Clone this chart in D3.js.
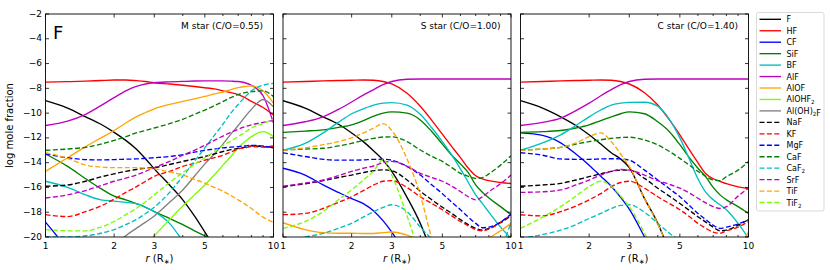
<!DOCTYPE html>
<html>
<head>
<meta charset="utf-8">
<script src="https://cdn.jsdelivr.net/npm/d3@7"></script>
<style>
    body { margin: 0; background: #fff; }
    text { font-family: 'DejaVu Sans', sans-serif; fill: #000; }
</style>
</head>
<body>
<svg id="chart" width="830" height="270"></svg>
<script>

// Radius grid (R*) shared by every series
const radius = [1, 1.25, 1.5, 1.75, 2, 2.25, 2.5, 2.75, 3, 3.5, 4, 4.5, 5, 5.5, 6, 6.5, 7, 7.5, 8, 9, 10];

// Species, legend order
const species = ['F', 'HF', 'CF', 'SiF', 'BF', 'AlF', 'AlOF', 'AlOHF2', 'Al(OH)2F',
    'NaF', 'KF', 'MgF', 'CaF', 'CaF2', 'SrF', 'TiF', 'TiF2'];
const colors = ['#000000', '#ff0000', '#0000ff', '#008000', '#00bfbf', '#bf00bf', '#ffa500', '#7cfc00', '#808080',
    '#000000', '#ff0000', '#0000ff', '#008000', '#00bfbf', '#bf00bf', '#ffa500', '#7cfc00'];
const dashed = [false, false, false, false, false, false, false, false, false,
    true, true, true, true, true, true, true, true];

// Panels
const panelTitles = ['M star (C/O=0.55)', 'S star (C/O=1.00)', 'C star (C/O=1.40)'];
const xTicks = [1, 2, 3, 5, 10];
const xMinorTicks = [4, 6, 7, 8, 9];
const yTicks = [-2, -4, -6, -8, -10, -12, -14, -16, -18, -20];

// log mole fraction, M star
const mStar = {
    'F':        [-9.0, -9.6, -10.3, -10.9, -11.55, -12.2, -12.9, -13.7, -14.5, -15.8, -17.0, -18.3, -19.6, -20.8, -22, -23, -24, -25, -26, -27, -28],
    'HF':       [-7.5, -7.46, -7.42, -7.37, -7.33, -7.33, -7.38, -7.45, -7.55, -7.65, -7.75, -7.85, -7.95, -8.05, -8.2, -8.35, -8.5, -8.75, -9.05, -9.55, -10.15],
    'CF':       [-18.8, -21, -23, -24, -25, -25.5, -26, -26.5, -27, -27.5, -28, -28.5, -29, -29.5, -30, -30.5, -31, -31.5, -32, -32.5, -33],
    'SiF':      [-13.3, -14.3, -15.3, -16.1, -16.7, -17.0, -17.3, -17.6, -17.95, -18.5, -19.0, -19.5, -19.9, -20.3, -20.7, -21, -21.3, -21.6, -21.9, -22.4, -22.9],
    'BF':       [-15.5, -16.0, -16.6, -17.0, -17.1, -17.2, -17.3, -17.6, -17.95, -18.9, -20.3, -21.5, -22.5, -23, -23.5, -24, -24.5, -25, -25.5, -26, -26.5],
    'AlF':      [-11.0, -10.65, -10.1, -9.4, -8.75, -8.2, -7.85, -7.65, -7.55, -7.48, -7.44, -7.41, -7.4, -7.4, -7.4, -7.42, -7.45, -7.55, -7.75, -8.6, -10.8],
    'AlOF':     [-14.7, -13.6, -12.7, -12.0, -11.4, -10.8, -10.3, -9.95, -9.65, -9.3, -9.05, -8.85, -8.65, -8.45, -8.3, -8.1, -7.95, -7.85, -7.8, -8.2, -9.2],
    'AlOHF2':   [-27, -26, -25, -24, -23, -22.2, -21.4, -20.6, -19.9, -18.6, -17.5, -16.6, -15.8, -15.0, -14.2, -13.5, -12.8, -12.3, -11.9, -11.5, -11.9],
    'Al(OH)2F': [-26, -24.5, -23, -21.8, -20.8, -19.9, -19.3, -18.8, -18.3, -17.2, -16.2, -15.1, -14.1, -13.3, -12.5, -11.7, -11.0, -10.3, -9.7, -8.9, -9.5],
    'NaF':      [-15.9, -15.8, -15.5, -15.15, -14.9, -14.7, -14.55, -14.45, -14.4, -14.15, -13.9, -13.7, -13.5, -13.3, -13.1, -12.95, -12.85, -12.75, -12.65, -12.7, -12.8],
    'KF':       [-18.2, -18.35, -17.95, -17.5, -16.95, -16.4, -15.95, -15.5, -15.1, -14.7, -14.3, -14.05, -13.8, -13.6, -13.4, -13.15, -12.9, -12.8, -12.7, -12.75, -12.65],
    'MgF':      [-13.3, -13.6, -13.75, -13.78, -13.75, -13.72, -13.7, -13.65, -13.6, -13.5, -13.35, -13.15, -13.0, -12.9, -12.8, -12.75, -12.7, -12.65, -12.6, -12.65, -12.8],
    'CaF':      [-13.0, -12.9, -12.76, -12.5, -12.2, -11.9, -11.6, -11.4, -11.2, -10.85, -10.5, -10.1, -9.75, -9.4, -9.07, -8.75, -8.5, -8.35, -8.27, -8.2, -8.67],
    'CaF2':     [-20.0, -20.0, -19.9, -19.7, -19.4, -19.0, -18.6, -18.1, -17.6, -16.4, -15.1, -13.9, -12.8, -11.8, -10.9, -10.0, -9.3, -8.7, -8.2, -7.75, -7.6],
    'SrF':      [-16.85, -16.6, -16.25, -15.85, -15.5, -15.25, -15.0, -14.7, -14.4, -13.9, -13.4, -13.0, -12.6, -12.2, -11.85, -11.55, -11.3, -11.1, -10.95, -10.75, -10.6],
    'TiF':      [-13.2, -13.65, -14.2, -14.35, -14.4, -14.4, -14.4, -14.45, -14.5, -14.75, -15.0, -15.35, -15.65, -16.0, -16.3, -16.65, -17.0, -17.35, -17.7, -18.4, -18.8],
    'TiF2':     [-19.4, -19.5, -19.5, -19.2, -18.75, -18.2, -17.7, -17.15, -16.6, -15.6, -14.8, -14.15, -13.6, -13.1, -12.6, -12.25, -11.9, -11.55, -11.2, -10.85, -10.5]
};

// log mole fraction, S star
const sStar = {
    'F':        [-9.0, -9.6, -10.3, -10.9, -11.6, -12.3, -13.05, -13.8, -14.7, -16.8, -18.9, -21.3, -23.5, -25, -26, -27, -28, -29, -30, -31, -32],
    'HF':       [-7.5, -7.45, -7.4, -7.37, -7.35, -7.33, -7.35, -7.45, -7.65, -8.4, -9.45, -10.6, -11.7, -12.7, -13.6, -14.45, -15.05, -15.3, -15.45, -15.6, -15.68],
    'CF':       [-14.45, -15.0, -15.8, -16.4, -16.9, -17.3, -17.9, -18.7, -19.6, -21.5, -23, -24, -25, -26, -27, -28, -29, -30, -31, -32, -33],
    'SiF':      [-11.55, -11.45, -11.35, -11.15, -10.95, -10.6, -10.25, -10.0, -9.9, -10.0, -10.55, -11.5, -12.5, -13.4, -14.1, -14.8, -15.8, -16.4, -16.85, -17.55, -18.2],
    'BF':       [-13.0, -12.45, -11.6, -10.75, -10.05, -9.65, -9.35, -9.2, -9.15, -9.35, -10.1, -11.2, -12.3, -13.4, -14.5, -15.6, -16.6, -17.3, -18.0, -19.2, -20.1],
    'AlF':      [-11.0, -10.7, -10.3, -9.7, -9.1, -8.55, -8.1, -7.7, -7.45, -7.27, -7.25, -7.25, -7.25, -7.25, -7.25, -7.25, -7.25, -7.25, -7.25, -7.25, -7.25],
    'AlOF':     [-18.85, -19.4, -19.65, -19.7, -19.7, -19.72, -19.72, -19.65, -19.6, -19.85, -20.3, -20.7, -21, -21.2, -21.2, -21.1, -20.9, -20.5, -20.1, -19.5, -18.9],
    'AlOHF2':   [],
    'Al(OH)2F': [],
    'NaF':      [-15.93, -15.7, -15.45, -15.2, -15.0, -14.8, -14.65, -14.58, -14.65, -15.4, -16.3, -17.0, -17.6, -18.1, -18.6, -19.0, -19.3, -19.45, -19.3, -18.85, -18.3],
    'KF':       [-18.2, -18.1, -17.7, -17.2, -16.75, -16.25, -15.8, -15.5, -15.45, -16.0, -16.75, -17.3, -17.8, -18.3, -18.75, -19.1, -19.4, -19.5, -19.35, -18.8, -18.2],
    'MgF':      [-13.2, -13.5, -13.73, -13.8, -13.8, -13.78, -13.73, -13.73, -13.8, -14.3, -15.0, -15.8, -16.5, -17.2, -17.8, -18.4, -18.9, -19.25, -19.2, -18.8, -18.15],
    'CaF':      [-12.98, -12.9, -12.84, -12.65, -12.44, -12.2, -12.04, -11.93, -11.92, -12.3, -12.98, -13.5, -13.9, -14.4, -14.86, -15.1, -15.27, -15.2, -14.9, -14.2, -13.45],
    'CaF2':     [-20.3, -20.0, -19.7, -19.3, -18.9, -18.4, -17.95, -17.6, -17.4, -17.95, -19.2, -20.2, -21.2, -22, -22.5, -22.7, -22.7, -22.5, -22.2, -21.0, -18.8],
    'SrF':      [-15.9, -15.65, -15.4, -15.05, -14.7, -14.45, -14.27, -14.0, -13.9, -14.3, -14.86, -15.2, -15.5, -15.9, -16.33, -16.75, -17.0, -16.75, -16.35, -15.7, -15.0],
    'TiF':      [-13.0, -12.8, -12.55, -12.3, -12.0, -11.6, -11.2, -10.85, -11.4, -13.7, -16.6, -20.2, -23, -25, -26, -27, -28, -29, -30, -31, -32],
    'TiF2':     [-19.3, -18.75, -17.95, -17.0, -16.2, -15.4, -14.65, -13.75, -15.0, -18.3, -21.5, -24, -26, -27, -28, -29, -30, -31, -32, -33, -34]
};

// log mole fraction, C star
const cStar = {
    'F':        [-9.0, -9.6, -10.3, -11.0, -11.75, -12.5, -13.2, -13.7, -14.4, -16.9, -18.9, -21.2, -23.5, -25, -26, -27, -28, -29, -30, -31, -32],
    'HF':       [-7.5, -7.45, -7.4, -7.37, -7.35, -7.33, -7.35, -7.45, -7.65, -8.35, -9.35, -10.55, -11.75, -12.95, -14.0, -14.9, -15.3, -15.5, -15.7, -15.95, -16.1],
    'CF':       [-11.6, -11.8, -12.4, -13.3, -14.2, -15.1, -15.9, -16.8, -17.75, -20.0, -22, -23.5, -25, -26, -27, -28, -29, -30, -31, -32, -33],
    'SiF':      [-11.55, -11.5, -11.4, -11.2, -10.95, -10.6, -10.3, -10.05, -9.9, -10.05, -10.7, -11.5, -12.55, -13.6, -14.45, -15.15, -16.0, -16.6, -17.0, -17.55, -18.1],
    'BF':       [-13.0, -12.4, -11.75, -11.0, -10.3, -9.75, -9.35, -9.2, -9.13, -9.12, -9.45, -10.5, -12.0, -13.7, -15.3, -16.4, -17.0, -17.4, -17.8, -18.9, -20.1],
    'AlF':      [-11.0, -10.75, -10.4, -9.8, -9.2, -8.6, -8.1, -7.7, -7.45, -7.27, -7.25, -7.25, -7.25, -7.25, -7.25, -7.25, -7.25, -7.25, -7.25, -7.25, -7.25],
    'AlOF':     [-24, -24, -24, -24, -24, -24, -24, -24, -24, -24, -24, -24, -24, -24, -24, -23.5, -23, -22.5, -22, -21, -19.6],
    'AlOHF2':   [],
    'Al(OH)2F': [],
    'NaF':      [-15.9, -15.8, -15.67, -15.4, -15.13, -14.9, -14.7, -14.6, -14.6, -15.27, -16.06, -16.7, -17.3, -17.85, -18.36, -18.8, -19.2, -19.5, -19.45, -19.05, -18.6],
    'KF':       [-18.2, -18.3, -17.95, -17.5, -17.0, -16.5, -15.95, -15.6, -15.5, -16.06, -16.75, -17.3, -17.8, -18.35, -18.9, -19.3, -19.6, -19.7, -19.5, -19.2, -18.75],
    'MgF':      [-13.2, -13.4, -13.7, -13.73, -13.73, -13.7, -13.68, -13.7, -13.8, -14.6, -15.4, -16.1, -16.75, -17.45, -18.1, -18.6, -19.05, -19.3, -19.2, -18.95, -18.6],
    'CaF':      [-12.98, -12.9, -12.76, -12.5, -12.3, -12.15, -12.04, -11.97, -11.95, -12.17, -12.57, -13.1, -13.65, -14.2, -14.7, -15.1, -15.4, -15.45, -15.13, -14.6, -13.9],
    'CaF2':     [-20.1, -19.8, -19.45, -19.0, -18.5, -18.1, -17.7, -17.45, -17.4, -18.0, -18.9, -19.7, -20.3, -21, -21.5, -22, -22, -22, -22, -21.5, -20.5],
    'SrF':      [-16.4, -16.35, -16.2, -15.8, -15.4, -15.0, -14.7, -14.55, -14.6, -15.0, -15.45, -15.75, -16.06, -16.45, -16.87, -17.25, -17.55, -17.7, -17.55, -16.7, -16.06],
    'TiF':      [-13.0, -12.9, -12.76, -12.4, -11.9, -11.6, -12.3, -13.3, -14.3, -16.9, -18.95, -21.2, -23.5, -25, -26, -27, -28, -29, -30, -31, -32],
    'TiF2':     [-19.3, -18.4, -17.55, -16.7, -15.93, -15.5, -15.9, -16.7, -17.55, -19.7, -21.8, -24, -26, -27, -28, -29, -30, -31, -32, -33, -34]
};

const panelData = [mStar, sStar, cStar];

// Layout
const configs = {
    lefts: [45.5, 283, 520.5],
    panelW: 228,
    top: 14,
    bottom: 237,
    tickSize: 3.5,
    minorTickSize: 2,
    lineWidth: 1.35,
    dash: '5,2.4',
    legendX: 756.5,
    legendY: 12.5,
    legendW: 67.5,
    legendH: 198.5,
    legendRow0: 19.3,
    legendStep: 11.45
};

const svg = d3.select('#chart');

// Scales
const y = d3.scaleLinear().domain([-20, -2]).range([configs.bottom, configs.top]);

// Text with digits set as subscripts
function setLabel(sel, label, size) {
    const parts = label.match(/\d+|[^\d]+/g);
    parts.forEach(p => {
        const isSub = /^\d+$/.test(p);
        sel.append('tspan')
            .attr('font-size', isSub ? size * 0.7 : size)
            .attr('dy', isSub ? size * 0.25 : 0)
            .text(p);
        if (isSub) sel.append('tspan').attr('dy', -size * 0.25).text('');
    });
}

panelData.forEach((data, pi) => {
    const x0 = configs.lefts[pi];
    const x = d3.scaleLog().domain([1, 10]).range([x0, x0 + configs.panelW]);
    const g = svg.append('g').attr('class', 'panel_' + pi);

    // Clip
    svg.append('clipPath').attr('id', 'clip' + pi)
        .append('rect')
        .attr('x', x0).attr('y', configs.top)
        .attr('width', configs.panelW).attr('height', configs.bottom - configs.top);

    // Lines
    const line = d3.line()
        .x(d => x(d[0]))
        .y(d => y(d[1]))
        .curve(d3.curveMonotoneX);
    const linesG = g.append('g').attr('clip-path', `url(#clip${pi})`);
    species.forEach((sp, si) => {
        const vals = data[sp];
        if (!vals || vals.length === 0) return;
        linesG.append('path')
            .attr('d', line(radius.map((r, i) => [r, vals[i]])))
            .attr('fill', 'none')
            .attr('stroke', colors[si])
            .attr('stroke-width', configs.lineWidth)
            .attr('stroke-dasharray', dashed[si] ? configs.dash : null);
    });

    // Frame
    g.append('rect')
        .attr('x', x0).attr('y', configs.top)
        .attr('width', configs.panelW).attr('height', configs.bottom - configs.top)
        .attr('fill', 'none').attr('stroke', '#000').attr('stroke-width', 0.9);

    // Inward ticks, x
    const tickG = g.append('g').attr('stroke', '#000').attr('stroke-width', 0.8);
    xTicks.concat(xMinorTicks).forEach(t => {
        const len = xTicks.includes(t) ? configs.tickSize : configs.minorTickSize;
        tickG.append('line').attr('x1', x(t)).attr('x2', x(t))
            .attr('y1', configs.bottom).attr('y2', configs.bottom - len);
        tickG.append('line').attr('x1', x(t)).attr('x2', x(t))
            .attr('y1', configs.top).attr('y2', configs.top + len);
    });
    // Inward ticks, y
    yTicks.forEach(t => {
        tickG.append('line').attr('x1', x0).attr('x2', x0 + configs.tickSize)
            .attr('y1', y(t)).attr('y2', y(t));
        tickG.append('line').attr('x1', x0 + configs.panelW).attr('x2', x0 + configs.panelW - configs.tickSize)
            .attr('y1', y(t)).attr('y2', y(t));
    });

    // Tick labels, x
    xTicks.forEach(t => {
        g.append('text')
            .attr('x', x(t)).attr('y', 249)
            .attr('text-anchor', 'middle')
            .attr('font-size', 9)
            .text(t);
    });

    // Tick labels, y (first panel only)
    if (pi === 0) {
        yTicks.forEach(t => {
            g.append('text')
                .attr('x', x0 - 3.5).attr('y', y(t))
                .attr('text-anchor', 'end')
                .attr('dominant-baseline', 'middle')
                .attr('font-size', 9)
                .text(d3.format('d')(t).replace('-', '\u2212'));
        });
    }

    // Axis label, x
    const xl = g.append('text')
        .attr('x', x0 + configs.panelW / 2).attr('y', 262)
        .attr('text-anchor', 'middle')
        .attr('font-size', 10);
    xl.append('tspan').attr('font-style', 'italic').text('r');
    xl.append('tspan').text(' (R');
    xl.append('tspan').attr('font-size', 7).attr('dy', 2).text('\u2217');
    xl.append('tspan').attr('dy', -2).text(')');

    // Panel title
    g.append('text')
        .attr('x', x0 + configs.panelW - 10.5).attr('y', 29)
        .attr('text-anchor', 'end')
        .attr('font-size', 9)
        .text(panelTitles[pi]);
});

// Panel letter
svg.append('text')
    .attr('x', 53).attr('y', 39)
    .attr('font-size', 18)
    .text('F');

// Axis label, y
svg.append('text')
    .attr('transform', `translate(13, ${(configs.top + configs.bottom) / 2}) rotate(-90)`)
    .attr('text-anchor', 'middle')
    .attr('font-size', 10)
    .text('log mole fraction');

// Legend
const legendG = svg.append('g').attr('class', 'legend_g');
legendG.append('rect')
    .attr('x', configs.legendX).attr('y', configs.legendY)
    .attr('width', configs.legendW).attr('height', configs.legendH)
    .attr('rx', 2)
    .attr('fill', '#fff').attr('fill-opacity', 0.8)
    .attr('stroke', '#d0d0d0').attr('stroke-width', 0.8);
species.forEach((sp, si) => {
    const ly = configs.legendRow0 + si * configs.legendStep;
    legendG.append('line')
        .attr('x1', 759.5).attr('x2', 781)
        .attr('y1', ly).attr('y2', ly)
        .attr('stroke', colors[si])
        .attr('stroke-width', configs.lineWidth)
        .attr('stroke-dasharray', dashed[si] ? configs.dash : null);
    const t = legendG.append('text')
        .attr('x', 786.5).attr('y', ly + 3)
        .attr('font-size', 8);
    setLabel(t, sp, 8);
});

</script>
</body>
</html>
